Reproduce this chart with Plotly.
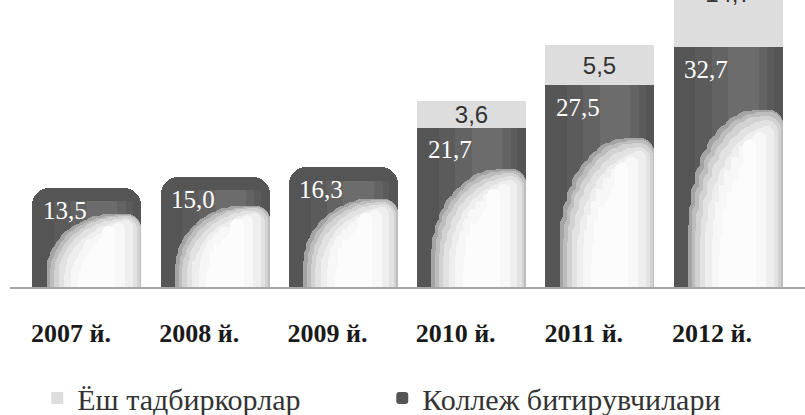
import plotly.graph_objects as go

years = ["2007 й.", "2008 й.", "2009 й.", "2010 й.", "2011 й.", "2012 й."]
kollej = [13.5, 15.0, 16.3, 21.7, 27.5, 32.7]          # dark bars
yosh = [None, None, None, 3.6, 5.5, 14.7]               # light segments on top
name_yosh = "Ёш тадбиркорлар"
name_kollej = "Коллеж битирувчилари"

SERIF = "'Liberation Serif', 'Times New Roman', Times, serif"
SANS = "'Liberation Sans', Arial, sans-serif"

def fmt(v):
    return "" if v is None else f"{v:.1f}".replace(".", ",")

BW = 0.85
W, H = 805, 415
ML, MR, MT, MB = 10, 0, 0, 128
YMAX = 39.14

fig = go.Figure()

# light segments (stacked on dark via base)
fig.add_trace(go.Bar(
    x=years, y=yosh, base=kollej, name=name_yosh, width=BW,
    marker=dict(color="#dddddd", line=dict(width=0)),
    text=[fmt(v) for v in yosh], textposition="inside", insidetextanchor="middle",
    textfont=dict(family=SANS, size=24, color="#333333"),
    cliponaxis=True, hoverinfo="skip",
))

# dark bars: rounded ones (no segment above) and flat-topped ones
rounded = [v if s is None else None for v, s in zip(kollej, yosh)]
flat = [v if s is not None else None for v, s in zip(kollej, yosh)]
fig.add_trace(go.Bar(
    x=years, y=rounded, name=name_kollej, width=BW, legendgroup="k",
    marker=dict(color="#555555", cornerradius=17, line=dict(width=0)),
    hoverinfo="skip",
))
fig.add_trace(go.Bar(
    x=years, y=flat, name=name_kollej, width=BW, legendgroup="k", showlegend=False,
    marker=dict(color="#555555", line=dict(width=0)),
    hoverinfo="skip",
))

# ---- shading layers imitating the glossy gradient (decoration) ----
def add_layer(lf, rf, hf, col, rad):
    top_lim = [v - (1.8 if s is None else 0) for v, s in zip(kollej, yosh)]
    hy = [min(v * hf, t) for v, t in zip(kollej, top_lim)]
    fig.add_trace(go.Bar(
        x=years, y=hy, width=BW * (rf - lf), offset=-BW / 2 + BW * lf,
        marker=dict(color=col, cornerradius=rad, line=dict(width=0)),
        showlegend=False, hoverinfo="skip",
    ))

# subtle lighter vertical band in the dark part
add_layer(0.20, 0.92, 1.0, "#5b5b5b", 0)
add_layer(0.35, 0.86, 1.0, "#636363", 0)
add_layer(0.50, 0.78, 1.0, "#6c6c6c", 0)

# rounded glossy blob (left curve rising to a flat top at the right), rounded steps
outer = [(0.130, 0.300), (0.138, 0.376), (0.160, 0.450), (0.197, 0.520),
         (0.247, 0.583), (0.309, 0.637), (0.380, 0.681), (0.459, 0.714),
         (0.543, 0.733), (0.630, 0.740)]
rings = [
    # inset left, right edge, height drop, colour
    (0.00, 1.00, 0.000, "#a4a4a4"),
    (0.035, 1.00, 0.012, "#bdbdbd"),
    (0.07, 0.985, 0.026, "#d2d2d2"),
    (0.11, 0.96, 0.045, "#e2e2e2"),
    (0.16, 0.92, 0.068, "#eeeeee"),
    (0.22, 0.85, 0.095, "#f7f7f7"),
    (0.29, 0.76, 0.125, "#fcfcfc"),
]
for inset, rf, drop, col in rings:
    for lf, hf in outer:
        l2 = min(lf + inset, rf - 0.12)
        add_layer(l2, rf, hf - drop, col, 14)

# white value labels on dark bars
for yr, v in zip(years, kollej):
    fig.add_annotation(
        x=yr, y=v, xref="x", yref="y", text=fmt(v), showarrow=False,
        xanchor="center", yanchor="middle", xshift=-22, yshift=-22,
        font=dict(family=SERIF, size=25, color="#ffffff"),
    )

fig.update_layout(
    width=W, height=H,
    margin=dict(l=ML, r=MR, t=MT, b=MB, autoexpand=False),
    paper_bgcolor="white", plot_bgcolor="white",
    barmode="overlay", bargap=0,
    uniformtext=dict(minsize=24, mode="show"),
    showlegend=True, hovermode=False,
    legend=dict(
        orientation="h", x=0.0343, xanchor="left", y=-0.387, yanchor="middle",
        font=dict(family=SERIF, size=30, color="#333333"),
        entrywidth=300, itemclick=False, bgcolor="rgba(0,0,0,0)",
    ),
    xaxis=dict(
        type="category", range=[-0.6, 5.6], showgrid=False, zeroline=False,
        showline=True, linecolor="#a6a6a6", linewidth=2, ticks="", automargin=False,
        tickfont=dict(family=SERIF, size=26, color="#1a1a1a", weight="bold"),
        ticklabelshift=-16, ticklabelstandoff=22,
    ),
    xaxis2=dict(
        overlaying="x", anchor="y", side="bottom", range=[-0.6, 5.6], automargin=False,
        tickvals=[i + 0.352 for i in range(len(years))], ticks="outside",
        ticklen=10, tickwidth=2, tickcolor="#a6a6a6", showticklabels=False,
        showgrid=False, zeroline=False, showline=False,
    ),
    yaxis=dict(range=[0, YMAX], visible=False, automargin=False),
)

fig.write_html("out.html", config={"displayModeBar": False},
               post_script="document.body.style.margin='0';")
